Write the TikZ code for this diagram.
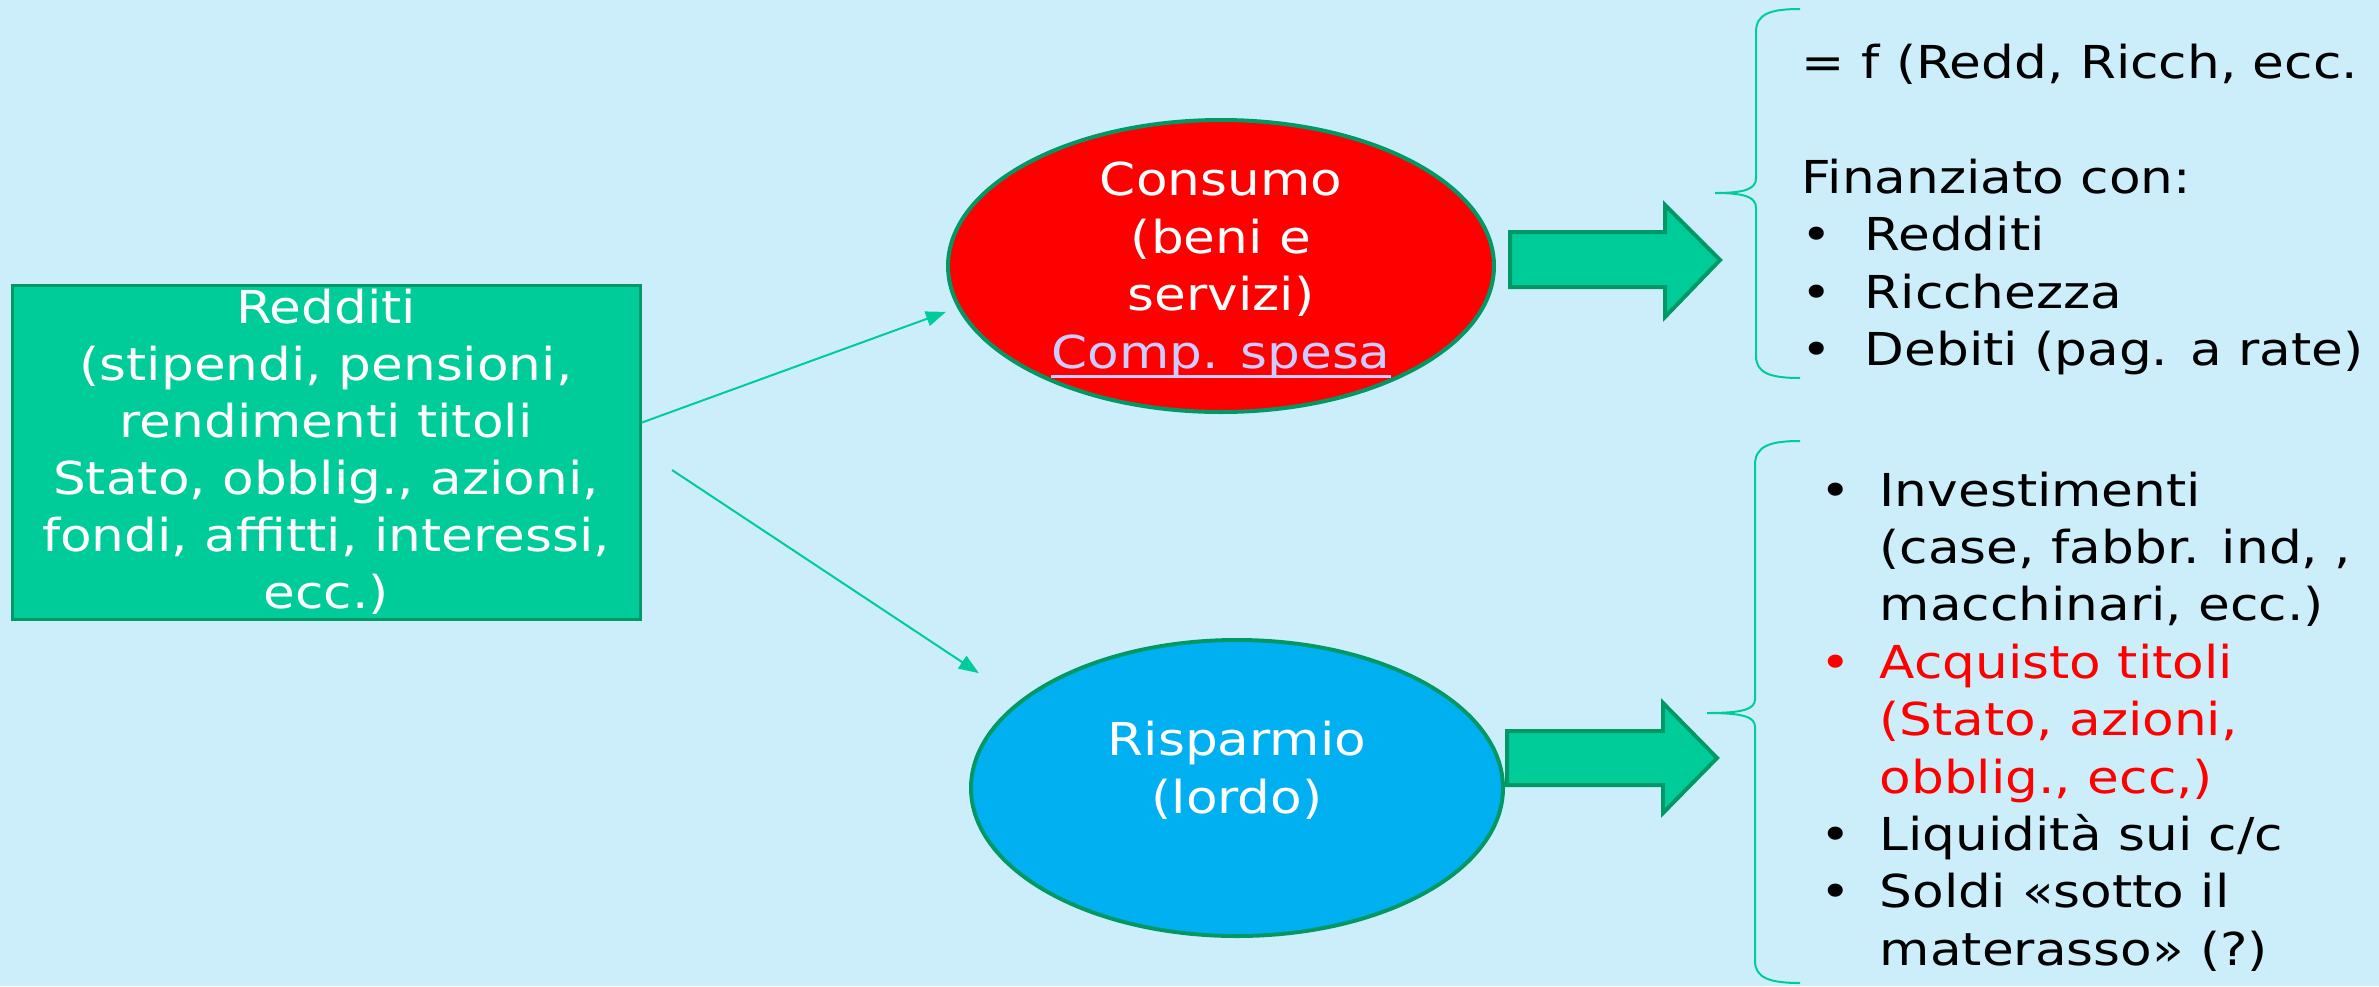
\documentclass[tikz,border=0pt]{standalone}
\usepackage{fontspec}
\setmainfont{DejaVu Sans}[FakeStretch=1.14]
\usetikzlibrary{arrows.meta, shapes.geometric, calc}
\definecolor{sfondo}{HTML}{CCEEFA}
\definecolor{verde}{HTML}{00CC99}
\definecolor{verdescuro}{HTML}{009966}
\definecolor{azzurro}{HTML}{00B0F0}
\definecolor{rosso}{HTML}{FF0000}
\definecolor{lilla}{HTML}{CCCCFF}
\newcommand{\punto}[1][6.3mm]{\makebox[#1][l]{•}}
\newcommand{\rientro}[1][5.9mm]{\hspace*{#1}}
\newcommand{\sottolinea}[1]{\setbox0\hbox{#1}\rlap{\rule[-0.95mm]{\wd0}{0.3mm}}#1}

\begin{document}
\begin{tikzpicture}[x=0.1mm, y=-0.1mm,
    riquadro/.style={rectangle, draw=verdescuro, line width=0.3mm, fill=verde, inner sep=0pt,
        text=white, align=center, font=\fontsize{12.9pt}{16.2pt}\selectfont},
    ovale/.style={ellipse, draw=verdescuro, line width=0.4mm, inner sep=0pt},
    testoovale/.style={inner sep=0pt, text=white, align=center, font=\fontsize{12.9pt}{16.4pt}\selectfont},
    elenco/.style={inner sep=0pt, anchor=north west, align=left, font=\fontsize{12.9pt}{16.33pt}\selectfont},
    freccina/.style={draw=verde, line width=0.2mm, -{Triangle[length=2mm, width=1.5mm]}},
    frecciona/.style={draw=verdescuro, line width=0.4mm, fill=verde, line join=miter},
    graffa/.style={draw=verde, line width=0.2mm}]
    \path[fill=sfondo, use as bounding box] (0,0) rectangle (2379,986);
    % sorgente
    \node[riquadro, minimum width=62.8mm, minimum height=33.4mm] (redditi) at (326,452)
        {Redditi\\(stipendi, pensioni,\\rendimenti titoli\\Stato, obblig., azioni,\\fondi, affitti, interessi,\\ecc.)};
    % le due destinazioni
    \node[ovale, fill=rosso, minimum width=54.6mm, minimum height=29.2mm] (consumo) at (1221,266) {};
    \node[testoovale] (consumotesto) at (1221,270)
        {Consumo\\(beni e\\servizi)\\\textcolor{lilla}{\sottolinea{Comp. spesa}}};
    \node[ovale, fill=azzurro, minimum width=53.2mm, minimum height=29.6mm] (risparmio) at (1237,788) {};
    \node[testoovale] (risparmiotesto) at (1237,770) {Risparmio\\(lordo)};
    % frecce sottili
    \coordinate (r1) at ($(redditi.north east)!0.413!(redditi.south east)$);
    \coordinate (r2) at (672,470);
    \draw[freccina, shorten >=1.2mm] (r1) -- (consumo.189);
    \draw[freccina, shorten >=4.9mm] (r2) -- (risparmio.158);
    % frecce grandi
    \draw[frecciona] (1510,232) -- (1665,232) -- (1665,205) -- (1720,260) -- (1665,317) -- (1665,287) -- (1510,287) -- cycle;
    \draw[frecciona] (1507,731) -- (1663,731) -- (1663,703) -- (1717,758) -- (1663,813) -- (1663,785) -- (1507,785) -- cycle;
    % graffe
    \draw[graffa] (1800,9) .. controls (1770,9) and (1756,14) .. (1756,32) -- (1756,178)
        .. controls (1756,189) and (1745,193) .. (1715,193)
        .. controls (1745,193) and (1756,197) .. (1756,208) -- (1756,356)
        .. controls (1756,373) and (1770,378) .. (1800,378);
    \draw[graffa] (1800,441) .. controls (1770,441) and (1755,446) .. (1755,465) -- (1755,699)
        .. controls (1755,709) and (1744,713) .. (1707,713)
        .. controls (1744,713) and (1755,717) .. (1755,727) -- (1755,961)
        .. controls (1755,978) and (1770,983) .. (1800,983);
    % elenchi
    \node[elenco] (fonti) at (1801,43.6)
        {= f (Redd, Ricch, ecc.\\[16.33pt]
         Finanziato con:\\
         \punto Redditi\\
         \punto Ricchezza\\
         \punto Debiti (pag. a rate)};
    \node[elenco] (impieghi) at (1820,471)
        {\punto[5.9mm]Investimenti\\
         \rientro(case, fabbr. ind, ,\\
         \rientro macchinari, ecc.)\\
         \textcolor{rosso}{\punto[5.9mm]Acquisto titoli}\\
         \textcolor{rosso}{\rientro(Stato, azioni,}\\
         \textcolor{rosso}{\rientro obblig., ecc,)}\\
         \punto[5.9mm]Liquidità sui c/c\\
         \punto[5.9mm]Soldi «sotto il\\
         \rientro materasso» (?)};
\end{tikzpicture}
\end{document}
